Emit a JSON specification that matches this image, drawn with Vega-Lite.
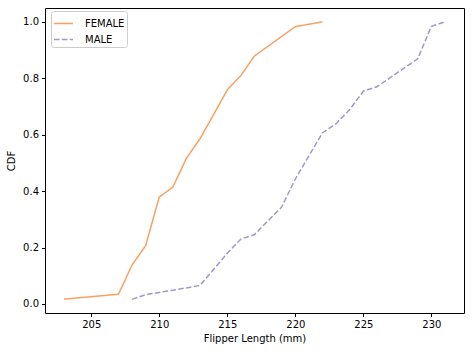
{
  "$schema": "https://vega.github.io/schema/vega-lite/v6.json",
  "autosize": "none",
  "width": 419,
  "height": 305,
  "padding": {"left": 45, "top": 8, "right": 8, "bottom": 39},
  "background": "white",
  "config": {
    "font": "DejaVu Sans",
    "view": {"stroke": "black", "strokeWidth": 1},
    "axis": {"labelFont": "DejaVu Sans", "titleFont": "DejaVu Sans", "labelFontSize": 10, "titleFontSize": 10, "titleFontWeight": "normal", "labelColor": "black", "titleColor": "black", "tickColor": "black", "domain": false, "grid": false, "tickSize": 3.5, "labelPadding": 3},
    "legend": {"orient": "none", "legendX": 6, "legendY": 3, "padding": 2, "fillColor": "white", "strokeColor": "#cccccc", "cornerRadius": 3, "labelFontSize": 10, "labelFont": "DejaVu Sans", "labelColor": "black", "symbolType": "stroke", "symbolSize": 361, "symbolStrokeWidth": 1.5, "rowPadding": -6, "labelOffset": 11}
  },
  "data": {"values": [
    {"sex": "FEMALE", "flipper": 203, "cdf": 0.0172},
    {"sex": "FEMALE", "flipper": 207, "cdf": 0.0345},
    {"sex": "FEMALE", "flipper": 208, "cdf": 0.138},
    {"sex": "FEMALE", "flipper": 209, "cdf": 0.207},
    {"sex": "FEMALE", "flipper": 210, "cdf": 0.379},
    {"sex": "FEMALE", "flipper": 211, "cdf": 0.414},
    {"sex": "FEMALE", "flipper": 212, "cdf": 0.517},
    {"sex": "FEMALE", "flipper": 213, "cdf": 0.586},
    {"sex": "FEMALE", "flipper": 214, "cdf": 0.672},
    {"sex": "FEMALE", "flipper": 215, "cdf": 0.759},
    {"sex": "FEMALE", "flipper": 216, "cdf": 0.810},
    {"sex": "FEMALE", "flipper": 217, "cdf": 0.879},
    {"sex": "FEMALE", "flipper": 220, "cdf": 0.983},
    {"sex": "FEMALE", "flipper": 222, "cdf": 1.0},
    {"sex": "MALE", "flipper": 208, "cdf": 0.0164},
    {"sex": "MALE", "flipper": 209, "cdf": 0.0328},
    {"sex": "MALE", "flipper": 210, "cdf": 0.041},
    {"sex": "MALE", "flipper": 211, "cdf": 0.049},
    {"sex": "MALE", "flipper": 212, "cdf": 0.057},
    {"sex": "MALE", "flipper": 213, "cdf": 0.0656},
    {"sex": "MALE", "flipper": 214, "cdf": 0.123},
    {"sex": "MALE", "flipper": 215, "cdf": 0.180},
    {"sex": "MALE", "flipper": 216, "cdf": 0.230},
    {"sex": "MALE", "flipper": 217, "cdf": 0.246},
    {"sex": "MALE", "flipper": 218, "cdf": 0.295},
    {"sex": "MALE", "flipper": 219, "cdf": 0.344},
    {"sex": "MALE", "flipper": 220, "cdf": 0.443},
    {"sex": "MALE", "flipper": 221, "cdf": 0.525},
    {"sex": "MALE", "flipper": 222, "cdf": 0.607},
    {"sex": "MALE", "flipper": 223, "cdf": 0.639},
    {"sex": "MALE", "flipper": 224, "cdf": 0.689},
    {"sex": "MALE", "flipper": 225, "cdf": 0.754},
    {"sex": "MALE", "flipper": 226, "cdf": 0.770},
    {"sex": "MALE", "flipper": 227, "cdf": 0.803},
    {"sex": "MALE", "flipper": 228, "cdf": 0.836},
    {"sex": "MALE", "flipper": 229, "cdf": 0.869},
    {"sex": "MALE", "flipper": 230, "cdf": 0.984},
    {"sex": "MALE", "flipper": 231, "cdf": 1.0}
  ]},
  "mark": {"type": "line", "strokeWidth": 1.5, "clip": true},
  "encoding": {
    "x": {"field": "flipper", "type": "quantitative", "title": "Flipper Length (mm)",
          "scale": {"domain": [201.6, 232.4], "nice": false, "zero": false},
          "axis": {"values": [205, 210, 215, 220, 225, 230], "format": "d", "titlePadding": 4}},
    "y": {"field": "cdf", "type": "quantitative", "title": "CDF",
          "scale": {"domain": [-0.032, 1.049], "nice": false, "zero": false},
          "axis": {"values": [0, 0.2, 0.4, 0.6, 0.8, 1.0], "format": ".1f", "titlePadding": 6}},
    "color": {"field": "sex", "type": "nominal",
              "scale": {"domain": ["FEMALE", "MALE"], "range": ["#f9a062", "#9e9ac8"]},
              "legend": {"title": null}},
    "strokeDash": {"field": "sex", "type": "nominal",
                   "scale": {"domain": ["FEMALE", "MALE"], "range": [[1, 0], [5.5, 2.4]]},
                   "legend": {"title": null}}
  }
}
